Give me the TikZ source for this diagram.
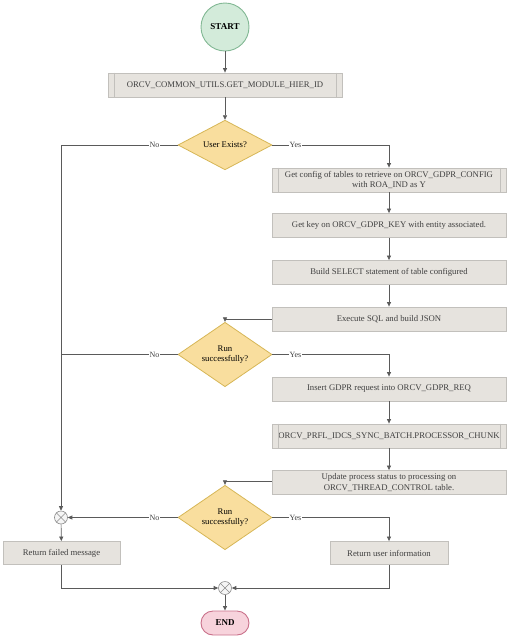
\documentclass[tikz,border=0pt]{standalone}
\usepackage{fontspec}
\setmainfont{Liberation Serif}
\usetikzlibrary{shapes.geometric,arrows.meta,calc}
\definecolor{boxfill}{HTML}{E6E3DE}
\definecolor{boxline}{HTML}{C2C0BC}
\definecolor{dfill}{HTML}{F9DE9E}
\definecolor{dline}{HTML}{D6B656}
\definecolor{sfill}{HTML}{D3EBDA}
\definecolor{sline}{HTML}{82B894}
\definecolor{efill}{HTML}{F7D3DC}
\definecolor{eline}{HTML}{C9708A}
\definecolor{conn}{HTML}{5A5A5A}
\tikzset{
  procbox/.style={draw=boxline, fill=boxfill, line width=0.8pt, minimum width=234pt, minimum height=24pt, inner sep=1pt, align=center, font=\fontsize{8.7}{10.5}\selectfont, text=black!75},
  smallbox/.style={procbox, minimum width=118pt, minimum height=23pt},
  decision/.style={shape=diamond, draw=dline, fill=dfill, line width=0.8pt, minimum width=94pt, minimum height=47pt, inner sep=0pt, align=center, font=\fontsize{8.7}{10.5}\selectfont},
  startnode/.style={circle, draw=sline, fill=sfill, line width=0.9pt, minimum size=48pt, inner sep=0pt, font=\fontsize{9}{10}\selectfont\bfseries},
  endnode/.style={rectangle, rounded corners=12pt, draw=eline, fill=efill, line width=0.9pt, minimum width=48pt, minimum height=24pt, inner sep=0pt, font=\fontsize{9}{10}\selectfont\bfseries},
  merge/.style={circle, draw=black!45, fill=black!4, line width=0.6pt, minimum size=13pt, inner sep=0pt},
  conn/.style={draw=conn, line width=0.7pt},
  arr/.style={conn, -{Triangle[length=4.5pt,width=4pt]}},
  lbl/.style={fill=white, inner sep=0.6pt, font=\fontsize{8}{9}\selectfont, text=black!75},
}
\begin{document}
\begin{tikzpicture}[x=1pt,y=-1pt]
\useasboundingbox (0,0) rectangle (509,638);
% nodes
\node[startnode] (start) at (225,27) {START};
\node[procbox] (b1) at (225,85) {ORCV\_COMMON\_UTILS.GET\_MODULE\_HIER\_ID};
\node[decision] (d1) at (225,145) {User Exists?};
\node[procbox] (b2) at (389,180) {Get config of tables to retrieve on ORCV\_GDPR\_CONFIG\\with ROA\_IND as Y};
\node[procbox] (b3) at (389,225.5) {Get key on ORCV\_GDPR\_KEY with entity associated.};
\node[procbox] (b4) at (389,272.5) {Build SELECT statement of table configured};
\node[procbox] (b5) at (389,319) {Execute SQL and build JSON};
\node[decision] (d2) at (225,354.5) {Run\\successfully?};
\node[procbox] (b6) at (389,389) {Insert GDPR request into ORCV\_GDPR\_REQ};
\node[procbox] (b7) at (389,436) {ORCV\_PRFL\_IDCS\_SYNC\_BATCH.PROCESSOR\_CHUNK};
\node[procbox] (b8) at (389,482.5) {Update process status to processing on\\ORCV\_THREAD\_CONTROL table.};
\node[decision] (d3) at (225,517.5) {Run\\successfully?};
\node[merge] (m1) at (61,517.5) {};
\node[smallbox, minimum width=117pt] (rf) at (61.5,553) {Return failed message};
\node[smallbox] (ru) at (389,553) {Return user information};
\node[merge] (m2) at (225,588) {};
\node[endnode] (end) at (225,623) {END};
% predefined-process side bars
\foreach \b in {b1,b2,b7}{
  \draw[boxline, line width=0.8pt] ([xshift=6.5pt]\b.north west) -- ([xshift=6.5pt]\b.south west);
  \draw[boxline, line width=0.8pt] ([xshift=-6.5pt]\b.north east) -- ([xshift=-6.5pt]\b.south east);
}
% merge crosses
\foreach \m in {m1,m2}{
  \draw[black!45, line width=0.6pt] (\m.north west) -- (\m.south east) (\m.north east) -- (\m.south west);
}
% connectors
\draw[arr] (start) -- (b1);
\draw[arr] (b1) -- (d1);
\draw[arr] (d1.west) -| (m1.north);
\draw[arr] (d1.east) -| (b2.north);
\draw[arr] (b2) -- (b3);
\draw[arr] (b3) -- (b4);
\draw[arr] (b4) -- (b5);
\draw[arr] (b5.west) -| (d2.north);
\draw[conn] (d2.west) -- (d2.west -| m1);
\draw[arr] (d2.east) -| (b6.north);
\draw[arr] (b6) -- (b7);
\draw[arr] (b7) -- (b8);
\draw[arr] ([yshift=1pt]b8.west) -| (d3.north);
\draw[arr] (d3.west) -- (m1.east);
\draw[arr] (d3.east) -| (ru.north);
\draw[arr] (m1) -- (rf);
\draw[arr] (rf.south) |- (m2.west);
\draw[arr] (ru.south) |- (m2.east);
\draw[arr] (m2) -- (end);
% labels
\node[lbl] (n1) at ([xshift=-23pt]d1.west) {No};
\node[lbl] (y1) at ([xshift=23pt]d1.east) {Yes};
\node[lbl] (n2) at ([xshift=-23pt]d2.west) {No};
\node[lbl] (y2) at ([xshift=23pt]d2.east) {Yes};
\node[lbl] (n3) at ([xshift=-23pt]d3.west) {No};
\node[lbl] (y3) at ([xshift=23pt]d3.east) {Yes};
\end{tikzpicture}
\end{document}
